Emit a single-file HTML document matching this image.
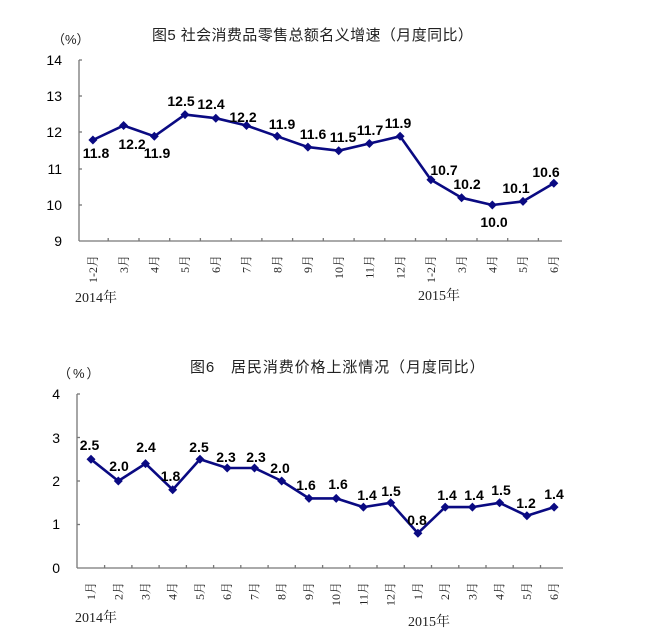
<!DOCTYPE html>
<html>
<head>
<meta charset="utf-8">
<style>
html,body{margin:0;padding:0;background:#fff;}
svg{display:block;}
.t{font-family:"Liberation Sans","Noto Sans CJK SC",sans-serif;fill:#222;}
.tk{font-family:"Liberation Sans",sans-serif;font-size:14px;fill:#000;}
.lb{font-family:"Liberation Sans",sans-serif;font-size:14px;font-weight:bold;fill:#000;}
.xl{font-family:"Liberation Serif","Noto Serif CJK SC",serif;font-size:12px;fill:#222;}
.yr{font-family:"Liberation Serif","Noto Serif CJK SC",serif;font-size:14px;fill:#222;}
</style>
</head>
<body>
<svg width="666" height="638" viewBox="0 0 666 638" xmlns="http://www.w3.org/2000/svg">
<!-- Chart 1 -->
<text class="t" x="152" y="40" font-size="15" letter-spacing="0.4">图5 社会消费品零售总额名义增速（月度同比）</text>
<text class="t" x="52" y="44" font-size="13">（%）</text>
<g class="tk" text-anchor="end">
<text x="62" y="65">14</text>
<text x="62" y="101">13</text>
<text x="62" y="137">12</text>
<text x="62" y="174">11</text>
<text x="62" y="210">10</text>
<text x="62" y="246">9</text>
</g>
<g stroke="#777" stroke-width="1.3" fill="none">
<line x1="79" y1="60" x2="79" y2="241"/>
<line x1="79" y1="241" x2="562" y2="241"/>
<line x1="79" y1="60" x2="82" y2="60"/>
<line x1="79" y1="96" x2="82" y2="96"/>
<line x1="79" y1="132" x2="82" y2="132"/>
<line x1="79" y1="169" x2="82" y2="169"/>
<line x1="79" y1="205" x2="82" y2="205"/>
<path d="M108.2 241v-3M139 241v-3M169.7 241v-3M200.4 241v-3M231.2 241v-3M261.9 241v-3M292.6 241v-3M323.3 241v-3M354.1 241v-3M384.8 241v-3M415.5 241v-3M446.3 241v-3M477 241v-3M507.7 241v-3M538.4 241v-3"/>
</g>
<polyline fill="none" stroke="#0a0a82" stroke-width="2.6" stroke-linejoin="round" points="92.9,140 123.6,125.5 154.3,136.3 185,114.6 215.8,118.2 246.5,125.5 277.2,136.3 307.9,147.1 338.7,150.7 369.4,143.5 400.1,136.3 430.9,179.7 461.6,197.8 492.3,205 523,201.4 553.8,183.3"/>
<g fill="#0a0a82">
<path d="M92.9 135.5l4.5 4.5-4.5 4.5-4.5-4.5z"/>
<path d="M123.6 121l4.5 4.5-4.5 4.5-4.5-4.5z"/>
<path d="M154.3 131.8l4.5 4.5-4.5 4.5-4.5-4.5z"/>
<path d="M185 110.1l4.5 4.5-4.5 4.5-4.5-4.5z"/>
<path d="M215.8 113.7l4.5 4.5-4.5 4.5-4.5-4.5z"/>
<path d="M246.5 121l4.5 4.5-4.5 4.5-4.5-4.5z"/>
<path d="M277.2 131.8l4.5 4.5-4.5 4.5-4.5-4.5z"/>
<path d="M307.9 142.6l4.5 4.5-4.5 4.5-4.5-4.5z"/>
<path d="M338.7 146.2l4.5 4.5-4.5 4.5-4.5-4.5z"/>
<path d="M369.4 139l4.5 4.5-4.5 4.5-4.5-4.5z"/>
<path d="M400.1 131.8l4.5 4.5-4.5 4.5-4.5-4.5z"/>
<path d="M430.9 175.2l4.5 4.5-4.5 4.5-4.5-4.5z"/>
<path d="M461.6 193.3l4.5 4.5-4.5 4.5-4.5-4.5z"/>
<path d="M492.3 200.5l4.5 4.5-4.5 4.5-4.5-4.5z"/>
<path d="M523 196.9l4.5 4.5-4.5 4.5-4.5-4.5z"/>
<path d="M553.8 178.8l4.5 4.5-4.5 4.5-4.5-4.5z"/>
</g>
<g class="lb" text-anchor="middle">
<text x="96" y="158">11.8</text>
<text x="132" y="149">12.2</text>
<text x="157" y="158">11.9</text>
<text x="181" y="106">12.5</text>
<text x="211" y="109">12.4</text>
<text x="243" y="122">12.2</text>
<text x="282" y="129">11.9</text>
<text x="313" y="139">11.6</text>
<text x="343" y="142">11.5</text>
<text x="370" y="135">11.7</text>
<text x="398" y="128">11.9</text>
<text x="444" y="175">10.7</text>
<text x="467" y="189">10.2</text>
<text x="494" y="227">10.0</text>
<text x="516" y="193">10.1</text>
<text x="546" y="177">10.6</text>
</g>
<g class="xl" text-anchor="end">
<text transform="translate(97,255) rotate(-90)">1-2月</text>
<text transform="translate(128,255) rotate(-90)">3月</text>
<text transform="translate(158.5,255) rotate(-90)">4月</text>
<text transform="translate(189.2,255) rotate(-90)">5月</text>
<text transform="translate(220,255) rotate(-90)">6月</text>
<text transform="translate(250.7,255) rotate(-90)">7月</text>
<text transform="translate(281.4,255) rotate(-90)">8月</text>
<text transform="translate(312.1,255) rotate(-90)">9月</text>
<text transform="translate(342.9,255) rotate(-90)">10月</text>
<text transform="translate(373.6,255) rotate(-90)">11月</text>
<text transform="translate(404.3,255) rotate(-90)">12月</text>
<text transform="translate(435.1,255) rotate(-90)">1-2月</text>
<text transform="translate(465.8,255) rotate(-90)">3月</text>
<text transform="translate(496.5,255) rotate(-90)">4月</text>
<text transform="translate(527.2,255) rotate(-90)">5月</text>
<text transform="translate(558,255) rotate(-90)">6月</text>
</g>
<text class="yr" x="75" y="302">2014年</text>
<text class="yr" x="418" y="300">2015年</text>

<!-- Chart 2 -->
<text class="t" x="190" y="372" font-size="15" letter-spacing="0.9">图6　居民消费价格上涨情况（月度同比）</text>
<text class="t" x="58" y="378" font-size="13" letter-spacing="2">（%）</text>
<g class="tk" text-anchor="end">
<text x="60" y="399">4</text>
<text x="60" y="443">3</text>
<text x="60" y="486">2</text>
<text x="60" y="529">1</text>
<text x="60" y="573">0</text>
</g>
<g stroke="#777" stroke-width="1.3" fill="none">
<line x1="77" y1="394" x2="77" y2="568"/>
<line x1="77" y1="568" x2="563" y2="568"/>
<line x1="77" y1="394" x2="80" y2="394"/>
<line x1="77" y1="437.5" x2="80" y2="437.5"/>
<line x1="77" y1="481" x2="80" y2="481"/>
<line x1="77" y1="524.5" x2="80" y2="524.5"/>
<path d="M104.6 568v-3M131.9 568v-3M159.1 568v-3M186.4 568v-3M213.6 568v-3M240.8 568v-3M268.1 568v-3M295.3 568v-3M322.6 568v-3M349.8 568v-3M377 568v-3M404.3 568v-3M431.5 568v-3M458.8 568v-3M486 568v-3M513.2 568v-3M540.5 568v-3"/>
</g>
<polyline fill="none" stroke="#0a0a82" stroke-width="2.6" stroke-linejoin="round" points="91,459.3 118.3,481 145.5,463.6 172.7,489.7 200,459.3 227.2,468 254.5,468 281.7,481 309,498.4 336.2,498.4 363.4,507.1 390.7,502.8 417.9,533.2 445.2,507.1 472.4,507.1 499.6,502.8 526.9,515.8 554.1,507.1"/>
<g fill="#0a0a82">
<path d="M91 454.8l4.5 4.5-4.5 4.5-4.5-4.5z"/>
<path d="M118.3 476.5l4.5 4.5-4.5 4.5-4.5-4.5z"/>
<path d="M145.5 459.1l4.5 4.5-4.5 4.5-4.5-4.5z"/>
<path d="M172.7 485.2l4.5 4.5-4.5 4.5-4.5-4.5z"/>
<path d="M200 454.8l4.5 4.5-4.5 4.5-4.5-4.5z"/>
<path d="M227.2 463.5l4.5 4.5-4.5 4.5-4.5-4.5z"/>
<path d="M254.5 463.5l4.5 4.5-4.5 4.5-4.5-4.5z"/>
<path d="M281.7 476.5l4.5 4.5-4.5 4.5-4.5-4.5z"/>
<path d="M309 493.9l4.5 4.5-4.5 4.5-4.5-4.5z"/>
<path d="M336.2 493.9l4.5 4.5-4.5 4.5-4.5-4.5z"/>
<path d="M363.4 502.6l4.5 4.5-4.5 4.5-4.5-4.5z"/>
<path d="M390.7 498.3l4.5 4.5-4.5 4.5-4.5-4.5z"/>
<path d="M417.9 528.7l4.5 4.5-4.5 4.5-4.5-4.5z"/>
<path d="M445.2 502.6l4.5 4.5-4.5 4.5-4.5-4.5z"/>
<path d="M472.4 502.6l4.5 4.5-4.5 4.5-4.5-4.5z"/>
<path d="M499.6 498.3l4.5 4.5-4.5 4.5-4.5-4.5z"/>
<path d="M526.9 511.3l4.5 4.5-4.5 4.5-4.5-4.5z"/>
<path d="M554.1 502.6l4.5 4.5-4.5 4.5-4.5-4.5z"/>
</g>
<g class="lb" text-anchor="middle">
<text x="89.5" y="450">2.5</text>
<text x="119" y="471">2.0</text>
<text x="146" y="452">2.4</text>
<text x="170.5" y="481">1.8</text>
<text x="199" y="452">2.5</text>
<text x="226" y="462">2.3</text>
<text x="256" y="462">2.3</text>
<text x="280" y="473">2.0</text>
<text x="306" y="490">1.6</text>
<text x="338" y="489">1.6</text>
<text x="367" y="500">1.4</text>
<text x="391" y="496">1.5</text>
<text x="417" y="525">0.8</text>
<text x="447" y="500">1.4</text>
<text x="474" y="500">1.4</text>
<text x="501" y="495">1.5</text>
<text x="526" y="508">1.2</text>
<text x="554" y="499">1.4</text>
</g>
<g class="xl" text-anchor="end">
<text transform="translate(95,582) rotate(-90)">1月</text>
<text transform="translate(122.3,582) rotate(-90)">2月</text>
<text transform="translate(149.5,582) rotate(-90)">3月</text>
<text transform="translate(176.7,582) rotate(-90)">4月</text>
<text transform="translate(204,582) rotate(-90)">5月</text>
<text transform="translate(231.2,582) rotate(-90)">6月</text>
<text transform="translate(258.5,582) rotate(-90)">7月</text>
<text transform="translate(285.7,582) rotate(-90)">8月</text>
<text transform="translate(313,582) rotate(-90)">9月</text>
<text transform="translate(340.2,582) rotate(-90)">10月</text>
<text transform="translate(367.4,582) rotate(-90)">11月</text>
<text transform="translate(394.7,582) rotate(-90)">12月</text>
<text transform="translate(421.9,582) rotate(-90)">1月</text>
<text transform="translate(449.2,582) rotate(-90)">2月</text>
<text transform="translate(476.4,582) rotate(-90)">3月</text>
<text transform="translate(503.6,582) rotate(-90)">4月</text>
<text transform="translate(530.9,582) rotate(-90)">5月</text>
<text transform="translate(558.1,582) rotate(-90)">6月</text>
</g>
<text class="yr" x="75" y="622">2014年</text>
<text class="yr" x="408" y="626">2015年</text>
</svg>
</body>
</html>
